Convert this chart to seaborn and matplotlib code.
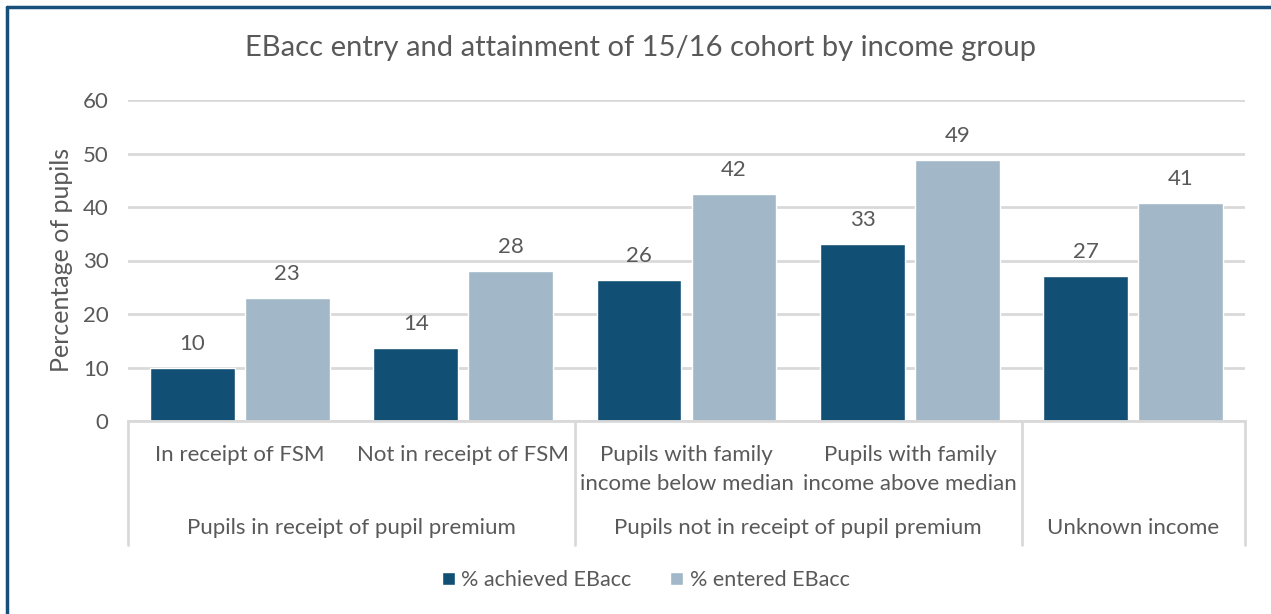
import matplotlib
matplotlib.use("Agg")
import matplotlib.pyplot as plt
import seaborn as sns
import pandas as pd
from matplotlib.lines import Line2D
from matplotlib.patches import Patch

categories = ["In receipt of FSM", "Not in receipt of FSM",
              "Pupils with family\nincome below median",
              "Pupils with family\nincome above median", "Unknown income"]
sub_labels = ["In receipt of FSM", "Not in receipt of FSM",
              "Pupils with family\nincome below median",
              "Pupils with family\nincome above median", ""]
achieved = [10.0, 13.7, 26.3, 33.1, 27.1]
entered = [23.0, 28.0, 42.4, 48.8, 40.7]
achieved_labels = ["10", "14", "26", "33", "27"]
entered_labels = ["23", "28", "42", "49", "41"]
groups = ["Pupils in receipt of pupil premium", "Pupils not in receipt of pupil premium", "Unknown income"]
group_spans = [(0, 1), (2, 3), (4, 4)]
series = ["% achieved EBacc", "% entered EBacc"]
title = "EBacc entry and attainment of 15/16 cohort by income group"
ylabel = "Percentage of pupils"

DARK = "#124f74"
LIGHT = "#a2b8c8"
GRID = "#d9d9d9"
TXT = "#595959"
FONT = ["Lato", "DejaVu Sans"]

sns.set_style("white")
plt.rcParams["font.family"] = FONT

df = pd.DataFrame({
    "cat": categories * 2,
    "val": achieved + entered,
    "series": [series[0]] * 5 + [series[1]] * 5,
})

fig = plt.figure(figsize=(12.71, 6.14), dpi=100)
ax = fig.add_axes([128 / 1271, 1 - 421 / 614, (1245 - 128) / 1271, (421 - 100) / 614])

sns.barplot(data=df, x="cat", y="val", hue="series", order=categories,
            hue_order=series, palette=[DARK, LIGHT], width=0.85, gap=0.106,
            saturation=1, ax=ax, legend=False, errorbar=None)

ax.set_ylim(0, 60)
ax.set_xlim(-0.5, 4.5)
ax.set_yticks(range(0, 61, 10))
ax.yaxis.grid(True, color=GRID, linewidth=2)
ax.set_axisbelow(True)
for s in ["top", "right", "left"]:
    ax.spines[s].set_visible(False)
ax.spines["bottom"].set_color(GRID)
ax.spines["bottom"].set_linewidth(2)
ax.tick_params(axis="y", length=0, pad=14, labelsize=16, labelcolor=TXT)
ax.set_xticks([])
ax.set_xlabel("")
ax.set_ylabel("")

for cont, labs in zip(ax.containers, [achieved_labels, entered_labels]):
    ax.bar_label(cont, labels=labs, padding=10, fontsize=16, color=TXT)

# category labels
trans = ax.get_xaxis_transform()
for i, c in enumerate(sub_labels):
    if c:
        ax.text(i, -0.075, c, transform=trans, ha="center", va="top",
                fontsize=16, color=TXT, linespacing=1.55)
for g, (a, b) in zip(groups, group_spans):
    ax.text((a + b) / 2, -107 / 321, g, transform=trans, ha="center", va="center",
            fontsize=16, color=TXT)
for xb in [-0.5, 1.5, 3.5, 4.5]:
    ax.add_line(Line2D([xb, xb], [0, -124 / 321], transform=trans,
                       color=GRID, linewidth=2, clip_on=False))

fig.text(0.048, 1 - 260 / 614, ylabel, rotation=90, ha="center", va="center",
         fontsize=18, color=TXT)
fig.text(0.504, 1 - 48 / 614, title, ha="center", va="center", fontsize=21, color=TXT)

handles = [Patch(facecolor=DARK), Patch(facecolor=LIGHT)]
fig.legend(handles, series, loc="center", bbox_to_anchor=(0.508, 1 - 580 / 614),
           ncol=2, frameon=False, fontsize=15.5, labelcolor=TXT,
           handlelength=0.6, handleheight=0.6, handletextpad=0.3, columnspacing=1.8)

# figure border (left and top)
fig.add_artist(Line2D([7 / 1271, 7 / 1271], [0, 1 - 7 / 614], color="#17507a", linewidth=2.5,
                      transform=fig.transFigure))
fig.add_artist(Line2D([7 / 1271, 1], [1 - 7 / 614, 1 - 7 / 614], color="#17507a", linewidth=2.5,
                      transform=fig.transFigure))

fig.savefig("out.png", dpi=100)
